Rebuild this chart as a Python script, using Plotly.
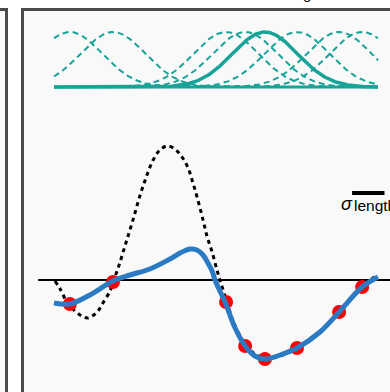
import numpy as np
import plotly.graph_objects as go

# ---------------- data ----------------
# training points (x, y)
obs_x = [0.49, 1.82, 5.31, 5.90, 6.51, 7.50, 8.80, 9.51]
obs_y = [-0.48, -0.04, -0.44, -1.32, -1.58, -1.36, -0.64, -0.14]

# GP posterior mean (blue)
mean_x = [0.00, 0.49, 1.11, 1.82, 2.35, 2.96, 3.58, 3.89, 4.20, 4.41, 4.60, 4.75,
          4.88, 4.97, 5.12, 5.28, 5.59, 5.90, 6.20, 6.51, 6.98, 7.50, 8.21, 8.80,
          9.51, 10.00]
mean_y = [-0.46, -0.48, -0.30, -0.02, 0.10, 0.22, 0.42, 0.54, 0.62, 0.60, 0.50, 0.34,
          0.18, 0.00, -0.22, -0.44, -0.96, -1.32, -1.52, -1.58, -1.50, -1.36, -1.04,
          -0.64, -0.14, 0.06]

# true function (black dashed)
true_x = [0.03, 0.19, 0.40, 0.65, 0.86, 1.05, 1.33, 1.51, 1.73, 1.82, 1.98, 2.19, 2.41,
          2.65, 2.87, 3.06, 3.27, 3.49, 3.73, 3.95, 4.14, 4.29, 4.44, 4.60, 4.72, 4.88,
          5.03, 5.12, 5.25, 5.43, 5.59, 5.90, 6.20, 6.51, 6.98, 7.50, 8.21, 8.80, 9.51,
          10.00]
true_y = [-0.02, -0.18, -0.44, -0.62, -0.72, -0.76, -0.64, -0.46, -0.22, -0.04, 0.24,
          0.68, 1.14, 1.68, 2.10, 2.40, 2.60, 2.68, 2.62, 2.46, 2.24, 1.94, 1.60, 1.20,
          0.88, 0.56, 0.20, 0.00, -0.26, -0.64, -0.92, -1.28, -1.48, -1.56, -1.52,
          -1.36, -1.04, -0.62, -0.12, 0.10]

# RBF kernels centred on the training inputs
kernel_centers = obs_x
highlight_index = 4
length_scale = 1.0
domain = [0.0, 10.0]
axis_span = [-0.49, 10.5]
sigma_bar_x = [9.20, 10.20]
sigma_bar_y = 1.74

TEAL = "#17a398"
BLUE = "#2a7bc4"

# ---------------- figure ----------------
fig = go.Figure()

xs = np.linspace(domain[0], domain[1], 400)
for i, c in enumerate(kernel_centers):
    if i == highlight_index:
        continue
    k = np.exp(-0.5 * ((xs - c) / length_scale) ** 2)
    fig.add_trace(go.Scatter(x=xs, y=k, yaxis="y2", mode="lines",
                             line=dict(color=TEAL, width=2, dash="6px,4px"),
                             hoverinfo="skip", showlegend=False))
# kernel baseline
fig.add_trace(go.Scatter(x=domain, y=[0, 0], yaxis="y2", mode="lines",
                         line=dict(color=TEAL, width=3), showlegend=False))
c = kernel_centers[highlight_index]
fig.add_trace(go.Scatter(x=xs, y=np.exp(-0.5 * ((xs - c) / length_scale) ** 2),
                         yaxis="y2", mode="lines",
                         line=dict(color=TEAL, width=3.5), showlegend=False))

# zero axis
fig.add_trace(go.Scatter(x=axis_span, y=[0, 0], mode="lines",
                         line=dict(color="black", width=2), showlegend=False))
# true function
fig.add_trace(go.Scatter(x=true_x, y=true_y, mode="lines", line_shape="spline",
                         line=dict(color="black", width=3, dash="4px,4px"),
                         showlegend=False))
# observations
fig.add_trace(go.Scatter(x=obs_x, y=obs_y, mode="markers",
                         marker=dict(color="#ff0000", size=14), showlegend=False))
# posterior mean
fig.add_trace(go.Scatter(x=mean_x, y=mean_y, mode="lines", line_shape="spline",
                         line=dict(color=BLUE, width=5), showlegend=False))
# sigma length bar
fig.add_trace(go.Scatter(x=sigma_bar_x, y=[sigma_bar_y, sigma_bar_y], mode="lines",
                         line=dict(color="black", width=4), showlegend=False))

W, H = 390, 392
px_per_x = 32.4
px_per_y = 50.0
x0_px, y0_px = 54.0, 280.0
k_base_px, k_amp_px = 87.0, 55.0

xr = [(0 - x0_px) / px_per_x, (W - x0_px) / px_per_x]
yr = [(y0_px - H) / px_per_y, y0_px / px_per_y]
y2r = [(k_base_px - H) / k_amp_px, k_base_px / k_amp_px]

border = "#4a4a4a"
panel = "#f9f9f9"
top_px = 9.5
shapes = [
    dict(type="rect", xref="paper", yref="paper", x0=-0.1, x1=6.5 / W,
         y0=-0.1, y1=(H - top_px) / H, fillcolor=panel,
         line=dict(color=border, width=3), layer="below"),
    dict(type="rect", xref="paper", yref="paper", x0=22.5 / W, x1=1.1,
         y0=-0.1, y1=(H - top_px) / H, fillcolor=panel,
         line=dict(color=border, width=3), layer="below"),
]

font = "Liberation Sans, Arial, sans-serif"
annotations = [
    dict(text="<i>σ</i>", xref="paper", yref="paper", x=347 / W, y=(H - 204.5) / H,
         xanchor="center", yanchor="middle", showarrow=False,
         font=dict(family=font, size=18, color="black")),
    dict(text="length", xref="paper", yref="paper", x=352 / W, y=(H - 205.5) / H,
         xanchor="left", yanchor="middle", showarrow=False,
         font=dict(family=font, size=15.5, color="black")),
    dict(text="g", xref="paper", yref="paper", x=307 / W, y=(H - 4) / H,
         xanchor="center", yanchor="bottom", showarrow=False,
         font=dict(family=font, size=15, color="black")),
]

fig.update_layout(
    width=W, height=H,
    margin=dict(l=0, r=0, t=0, b=0),
    paper_bgcolor="white", plot_bgcolor="white",
    xaxis=dict(range=xr, visible=False, fixedrange=True),
    yaxis=dict(range=yr, visible=False, fixedrange=True),
    yaxis2=dict(range=y2r, visible=False, overlaying="y", fixedrange=True),
    shapes=shapes, annotations=annotations, showlegend=False,
)

fig.write_html("out.html", config={"displayModeBar": False})
